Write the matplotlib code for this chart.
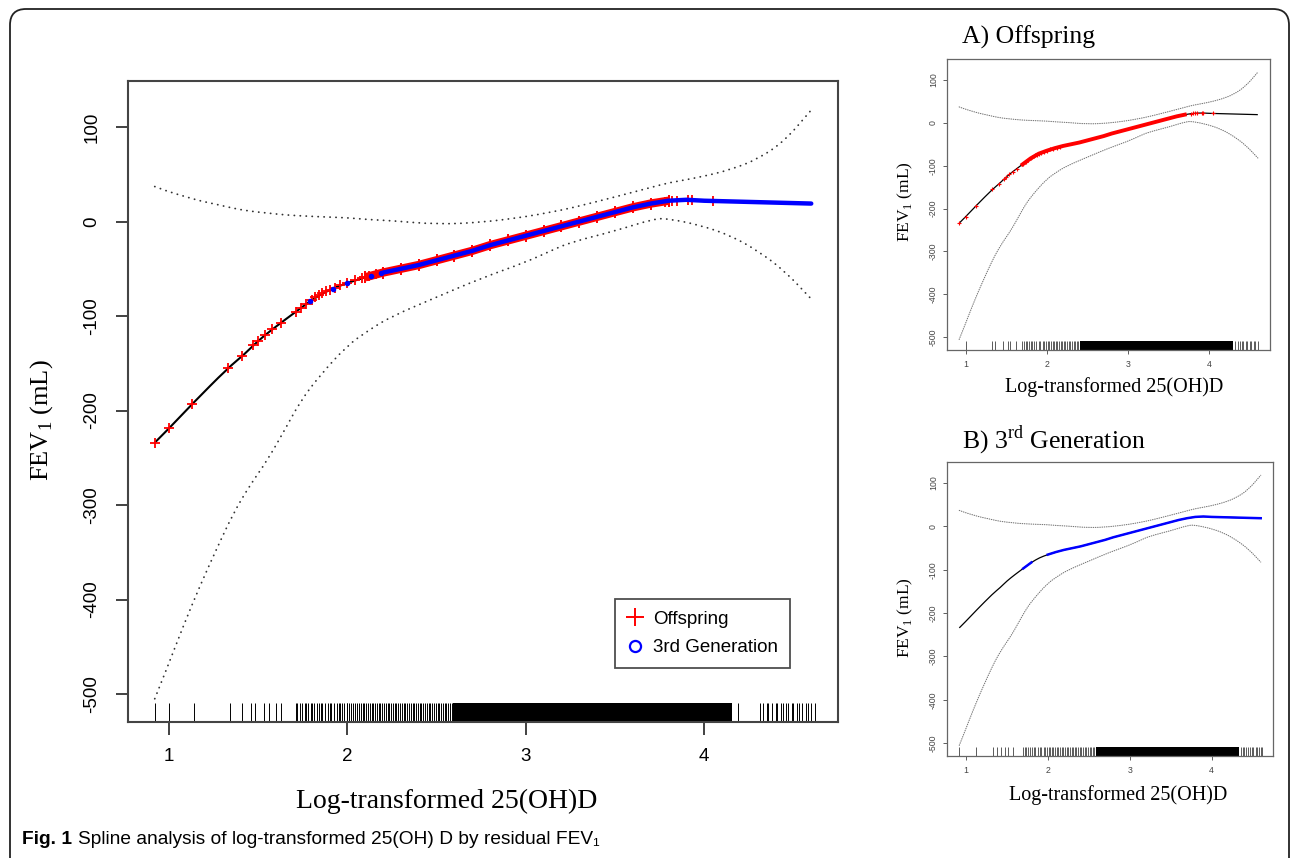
import matplotlib
matplotlib.use('Agg')
import matplotlib.pyplot as plt
from matplotlib.lines import Line2D
from matplotlib.patches import FancyBboxPatch, PathPatch
from matplotlib.path import Path
from matplotlib.transforms import IdentityTransform

# ---------------- data ----------------
curve_x = [0.92, 1.00, 1.13, 1.33, 1.42, 1.50, 1.60, 1.70, 1.80, 1.90, 2.00, 2.10,
           2.20, 2.30, 2.40, 2.50, 2.60, 2.70, 2.80, 2.90, 3.00, 3.10, 3.20, 3.30,
           3.40, 3.50, 3.60, 3.70, 3.80, 3.90, 4.00, 4.20, 4.40, 4.60]
curve_y = [-234, -219, -193, -155, -141, -126, -111, -97, -83, -72, -65, -59,
           -54, -50, -46, -41, -36, -31, -25, -20, -15, -10, -5, 0,
           5, 10, 15, 19, 22, 23, 22, 21, 20, 19]

ci_x = [0.92, 0.99, 1.08, 1.17, 1.27, 1.36, 1.45, 1.55, 1.65, 1.74, 1.85, 2.00, 2.12,
        2.24, 2.50, 2.75, 3.00, 3.14, 3.25, 3.50, 3.72, 3.80, 3.98, 4.15, 4.30, 4.45, 4.60]
ci_upper = [37, 32, 27, 22, 18, 14, 11, 9, 7, 6, 5, 4, 2,
            1, -3, -1, 5, 10, 14, 26, 37, 41, 47, 55, 66, 85, 118]
ci_lower = [-505, -472, -428, -387, -345, -309, -280, -253, -220, -189, -162, -131, -115,
            -101, -80, -60, -43, -31, -22, -10, 3, 3, -4, -15, -31, -52, -82]

# offspring points (sparse part) and dense range
off_x = [0.92, 1.00, 1.13, 1.33, 1.41, 1.47, 1.50, 1.54, 1.58, 1.63, 1.71, 1.74, 1.77,
         1.80, 1.82, 1.84, 1.86, 1.88, 1.90, 1.93, 1.96, 2.00, 2.04, 2.08, 2.12, 2.16,
         3.78, 3.80, 3.82, 3.85, 3.91, 3.93, 4.05]
off_y = [-234, -219, -193, -155, -142, -131, -126, -120, -114, -107, -96, -92, -87,
         -83, -80, -78, -76, -74, -72, -70, -67, -65, -62, -60, -58, -56,
         21, 22, 22, 22, 23, 23, 22]
off_dense = (2.10, 3.80)

# 3rd generation points (sparse part) and dense range
gen_x = [1.79, 1.92, 2.00, 2.13, 2.19]
gen_y = [-84, -71, -65, -58, -55]
gen_dense = (2.20, 4.60)
gen_dense_small = [(1.70, 1.80), (2.00, 4.60)]

# rug (main panel)
rug_main = [0.92, 1.00, 1.14, 1.34, 1.41, 1.46, 1.48, 1.53, 1.56, 1.60, 1.63,
            1.71, 1.72, 1.735, 1.745, 1.76, 1.77, 1.78, 1.795, 1.80, 1.815, 1.83, 1.84,
            1.85, 1.86, 1.875, 1.89, 1.90, 1.91, 1.925, 1.94, 1.95, 1.96, 1.97, 1.98,
            1.995, 2.00, 2.01, 2.02, 2.03, 2.045, 2.055, 2.065, 2.075, 2.085, 2.095,
            2.105, 2.115, 2.125, 2.135, 2.145, 2.155, 2.165, 2.175, 2.185, 2.195, 2.205,
            2.215, 2.225, 2.235, 2.245, 2.255, 2.265, 2.275, 2.285, 2.295, 2.305, 2.315,
            2.325, 2.335, 2.345, 2.355, 2.365, 2.375, 2.385, 2.395, 2.405, 2.415, 2.425,
            2.435, 2.445, 2.455, 2.465, 2.475, 2.485, 2.495, 2.505, 2.515, 2.525, 2.535,
            2.545, 2.555, 2.565, 2.575, 2.585,
            4.19, 4.31, 4.33, 4.35, 4.36, 4.38, 4.40, 4.41, 4.43, 4.44, 4.46, 4.47,
            4.49, 4.50, 4.52, 4.53, 4.55, 4.57, 4.58, 4.60, 4.62]
rug_main_band = (2.59, 4.155)

# rug (panel A, offspring)
rug_a = [1.00, 1.33, 1.36, 1.46, 1.52, 1.55, 1.62, 1.70, 1.72, 1.74, 1.76, 1.78, 1.80,
         1.82, 1.84, 1.87, 1.90, 1.92, 1.95, 1.97, 1.99, 2.01, 2.03, 2.05, 2.07, 2.09,
         2.11, 2.13, 2.15, 2.17, 2.19, 2.21, 2.23, 2.25, 2.27, 2.29, 2.31, 2.33, 2.35,
         2.37, 2.39, 4.32, 4.35, 4.38, 4.40, 4.42, 4.45, 4.47, 4.50, 4.52, 4.55, 4.57, 4.60]
rug_a_band = (2.41, 4.30)

# rug (panel B, 3rd generation)
rug_b = [0.92, 1.13, 1.33, 1.38, 1.43, 1.48, 1.52, 1.57, 1.70, 1.72, 1.74, 1.76, 1.78,
         1.81, 1.83, 1.85, 1.88, 1.90, 1.92, 1.95, 1.97, 1.99, 2.01, 2.03, 2.05, 2.07,
         2.09, 2.11, 2.13, 2.15, 2.17, 2.19, 2.21, 2.23, 2.25, 2.27, 2.29, 2.31, 2.33,
         2.35, 2.37, 2.39, 2.41, 2.43, 2.45, 2.47, 2.49, 2.51, 2.53, 2.55, 2.57,
         4.36, 4.38, 4.40, 4.42, 4.44, 4.47, 4.49, 4.51, 4.54, 4.56, 4.58, 4.60, 4.62]
rug_b_band = (2.59, 4.34)

xticks = [1, 2, 3, 4]
xtick_labels = ['1', '2', '3', '4']
yticks = [100, 0, -100, -200, -300, -400, -500]
ytick_labels = ['100', '0', '-100', '-200', '-300', '-400', '-500']
xlim = (0.77, 4.75)
ylim = (-529.6, 148.7)

legend_labels = ['Offspring', '3rd Generation']
xlabel = 'Log-transformed 25(OH)D'
ylabel = 'FEV$_{\\mathregular{1}}$ (mL)'
title_a = 'A) Offspring'
title_b = 'B) 3$^{\\mathregular{rd}}$ Generation'
caption_bold = 'Fig. 1'
caption_rest = 'Spline analysis of log-transformed 25(OH) D by residual FEV\u2081'

# ---------------- layout ----------------
W, H = 1292, 858
SANS = ['Liberation Sans', 'DejaVu Sans']
SERIF = ['Liberation Serif', 'DejaVu Serif']

fig = plt.figure(figsize=(W / 100, H / 100), dpi=100)
fig.patch.set_facecolor('white')


def box(l, t, r, b):
    return [l / W, 1 - b / H, (r - l) / W, (b - t) / H]


def pt(x, y):
    return (x / W, 1 - y / H)


def band_points(lo, hi):
    xs = [x for x in curve_x if lo <= x <= hi]
    ys = [y for x, y in zip(curve_x, curve_y) if lo <= x <= hi]
    return xs, ys


def smooth_patch(xs, ys, **kw):
    """Smooth path through the knots using quadratic Bezier pieces."""
    pts = list(zip(xs, ys))
    verts = [pts[0]]
    codes = [Path.MOVETO]
    for i in range(1, len(pts) - 1):
        mid = ((pts[i][0] + pts[i + 1][0]) / 2, (pts[i][1] + pts[i + 1][1]) / 2)
        verts += [pts[i], mid]
        codes += [Path.CURVE3, Path.CURVE3]
    verts.append(pts[-1])
    codes.append(Path.LINETO)
    return PathPatch(Path(verts, codes), fill=False, **kw)


def style_axes(ax, small):
    ax.set_xlim(*xlim)
    ax.set_ylim(*ylim)
    ax.set_xticks(xticks)
    ax.set_xticklabels(xtick_labels)
    ax.set_yticks(yticks)
    ax.set_yticklabels(ytick_labels, rotation=90, va='center')
    for s in ax.spines.values():
        s.set_color('#444444' if not small else '#666666')
        s.set_linewidth(1.5 if not small else 0.9)
    if small:
        ax.tick_params(axis='both', length=3, width=0.6, color='#444444',
                       labelsize=6.3, labelcolor='#444444')
        ax.tick_params(axis='x', pad=4)
        ax.tick_params(axis='y', pad=3.5)
    else:
        ax.tick_params(axis='both', length=9, width=1.3, color='#333333',
                       labelsize=13.5, labelcolor='black')
        ax.tick_params(axis='x', pad=10)
        ax.tick_params(axis='y', pad=11)
    for lab in ax.get_xticklabels() + ax.get_yticklabels():
        lab.set_family(SANS)


def draw_rug(ax, lines, band, lw, frac):
    tr = ax.get_xaxis_transform()
    ax.vlines(lines, 0, frac, transform=tr, color='black', lw=lw)
    ax.axvspan(band[0], band[1], ymin=0, ymax=frac, color='black', lw=0)


def draw_ci(ax, color, lw, ls):
    for ci in (ci_upper, ci_lower):
        p = smooth_patch(ci_x, ci, edgecolor=color, lw=lw, linestyle=ls)
        p.set_capstyle('round')
        ax.add_patch(p)


def draw_curve(ax, lw):
    ax.add_patch(smooth_patch(curve_x, curve_y, edgecolor='black', lw=lw))


# ---------------- main panel ----------------
ax = fig.add_axes(box(128, 81, 838, 722))
style_axes(ax, small=False)
draw_ci(ax, '#333333', 1.3, (0, (0.1, 3.2)))
draw_curve(ax, 1.5)
bx, by = band_points(*off_dense)
ax.plot(bx, by, color='red', lw=6, solid_capstyle='butt')
ax.plot(bx, by, '+', color='red', ms=9, mew=1.4)
ax.plot(off_x, off_y, '+', color='red', ms=7.5, mew=1.3, ls='none')
gx, gy = band_points(*gen_dense)
ax.plot(gx, gy, color='blue', lw=3.2, solid_capstyle='round')
ax.plot(gen_x, gen_y, 'o', color='blue', ms=3, ls='none')
draw_rug(ax, rug_main, rug_main_band, 0.7, 0.03)

handles = [Line2D([], [], marker='+', color='red', ls='none', ms=13, mew=1.4),
           Line2D([], [], marker='o', mfc='none', mec='blue', ls='none', ms=8, mew=1.6)]
leg = ax.legend(handles, legend_labels, loc='upper left',
                bbox_to_anchor=((615 - 128) / 710, (722 - 599) / 641),
                borderaxespad=0, fancybox=False, frameon=True,
                prop={'family': SANS, 'size': 13.5}, handlelength=0.9,
                handletextpad=0.5, borderpad=0.62, labelspacing=0.6)
leg.get_frame().set_edgecolor('#222222')
leg.get_frame().set_linewidth(1.3)

fig.text(*pt(447, 801), xlabel, family=SERIF, size=20, ha='center', va='center')
fig.text(*pt(42, 420), ylabel, family=SERIF, size=19, ha='center', va='center',
         rotation=90)

# ---------------- panel A ----------------
axa = fig.add_axes(box(947, 59, 1270, 350))
style_axes(axa, small=True)
draw_ci(axa, '#777777', 0.8, (0, (0.5, 1.5)))
draw_curve(axa, 0.9)
ax_bx, ax_by = band_points(1.70, 3.76)
axa.plot(ax_bx, ax_by, color='red', lw=2.8)
axa.plot(off_x, off_y, '+', color='red', ms=2.5, mew=0.8, ls='none')
draw_rug(axa, rug_a, rug_a_band, 0.45, 0.03)
fig.text(*pt(962, 37), title_a, family=SERIF, size=18.5, ha='left', va='center')
fig.text(*pt(1114, 387), xlabel, family=SERIF, size=14.5, ha='center', va='center')
fig.text(*pt(905, 202), ylabel, family=SERIF, size=12.5, ha='center', va='center',
         rotation=90)

# ---------------- panel B ----------------
axb = fig.add_axes(box(947, 462, 1273, 756))
style_axes(axb, small=True)
draw_ci(axb, '#777777', 0.8, (0, (0.5, 1.5)))
draw_curve(axb, 0.9)
for lo, hi in gen_dense_small:
    sx, sy = band_points(lo, hi)
    axb.plot(sx, sy, color='blue', lw=1.8)
draw_rug(axb, rug_b, rug_b_band, 0.45, 0.03)
fig.text(*pt(962, 440), title_b, family=SERIF, size=18.5, ha='left', va='center')
fig.text(*pt(1118, 795), xlabel, family=SERIF, size=14.5, ha='center', va='center')
fig.text(*pt(905, 618), ylabel, family=SERIF, size=12.5, ha='center', va='center',
         rotation=90)

# ---------------- border and caption ----------------
border = FancyBboxPatch((10, -40), 1279, (H - 9) + 40,
                        boxstyle='round,pad=0,rounding_size=16',
                        transform=IdentityTransform(), facecolor='none',
                        edgecolor='#222222', lw=1.3)
fig.add_artist(border)

ax0 = fig.add_axes([0, 0, 1, 1], facecolor='none')
ax0.axis('off')
t1 = fig.text(*pt(22, 844), caption_bold, family=SANS, weight='bold', size=13.8,
              ha='left', va='baseline')
ax0.annotate(caption_rest, xy=(1, 0), xycoords=t1, xytext=(4, 0),
             textcoords='offset points', ha='left', va='bottom',
             family=SANS, size=13.8)

fig.savefig('out.png', dpi=100)
